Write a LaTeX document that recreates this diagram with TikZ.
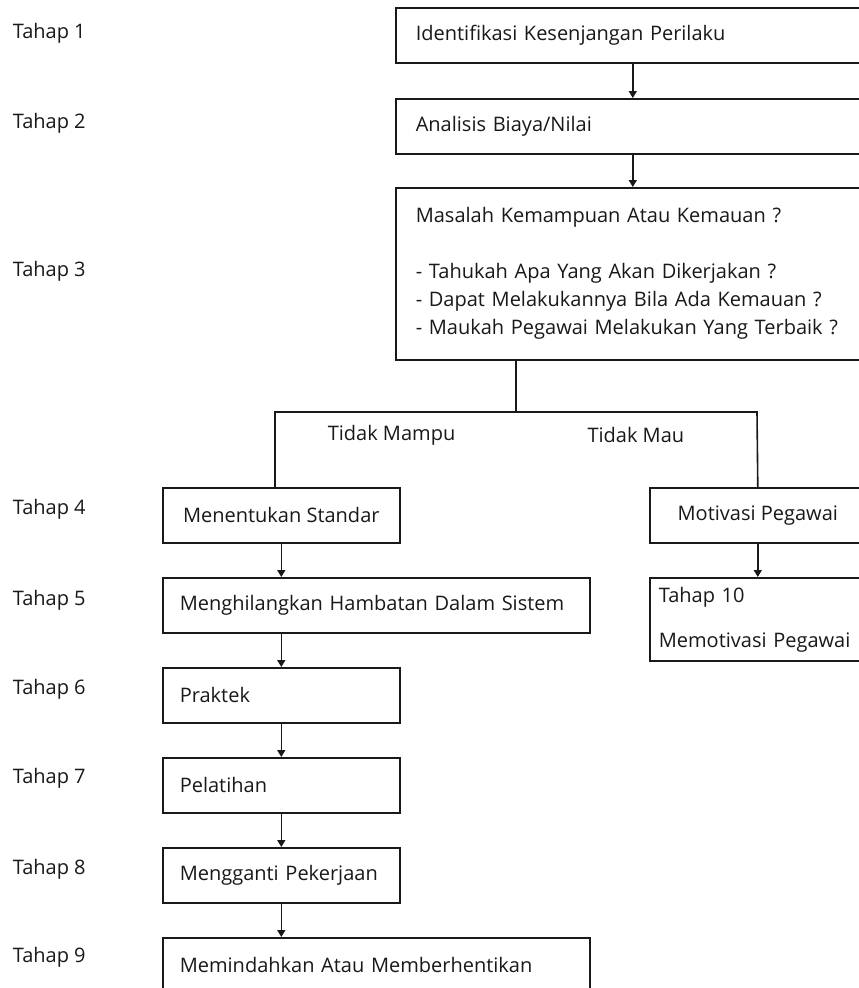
\documentclass[tikz,border=0pt]{standalone}
\usepackage{fontspec}
\setmainfont{Open Sans}
\usetikzlibrary{arrows.meta}

\tikzset{every picture/.style={line width=1.6pt}}
\tikzset{
  stepbox/.style={draw=black!90, anchor=north west, minimum height=55pt, inner ysep=0pt, align=left, text=black!90, font=\fontsize{20}{28}\selectfont},
  steplabel/.style={anchor=west, inner sep=0pt, text=black!90, font=\fontsize{20}{22}\selectfont},
  flowarrow/.style={draw=black!90, -{Triangle[length=7pt,width=8pt]}},
  flowline/.style={draw=black!90},
}

\begin{document}
\begin{tikzpicture}[x=1pt,y=1pt,yscale=-1,xscale=1]
\clip (0,0) rectangle (859,988);
\fill[white] (0,0) rectangle (859,988);
% Text Node
\node[steplabel] (tahapA) at (12,33) {Tahap 1};
% Text Node
\node[steplabel] (tahapB) at (12,123) {Tahap 2};
% Text Node
\node[steplabel] (tahapC) at (12,271) {Tahap 3};
% Text Node
\node[steplabel] (tahapD) at (12,509) {Tahap 4};
% Text Node
\node[steplabel] (tahapE) at (12,600) {Tahap 5};
% Text Node
\node[steplabel] (tahapF) at (12,689) {Tahap 6};
% Text Node
\node[steplabel] (tahapG) at (12,778) {Tahap 7};
% Text Node
\node[steplabel] (tahapH) at (12,869) {Tahap 8};
% Text Node
\node[steplabel] (tahapI) at (12,957) {Tahap 9};
%Rect
\node[stepbox, text width=434pt, inner xsep=20pt] (ident) at (395,7) {Identifikasi Kesenjangan Perilaku};
%Rect
\node[stepbox, text width=434pt, inner xsep=20pt] (biaya) at (395,98) {Analisis Biaya/Nilai};
%Rect
\node[stepbox, text width=434pt, inner xsep=20pt, minimum height=172pt] (masalah) at (395,187) {Masalah Kemampuan Atau Kemauan ?\\[28pt]- Tahukah Apa Yang Akan Dikerjakan ?\\- Dapat Melakukannya Bila Ada Kemauan ?\\- Maukah Pegawai Melakukan Yang Terbaik ?};
%Rect
\node[stepbox, minimum width=237pt] (standar) at (162,487) {Menentukan Standar};
%Rect
\node[stepbox, minimum width=216pt] (motivasi) at (649,487) {Motivasi Pegawai};
%Rect
\node[stepbox, text width=393pt, inner xsep=17pt] (hambatan) at (162,577) {Menghilangkan Hambatan Dalam Sistem};
%Rect
\node[stepbox, text width=242pt, inner xsep=9pt, minimum height=83pt, font=\fontsize{20}{45}\selectfont] (tahapJ) at (649,577) {Tahap 10\\Memotivasi Pegawai};
%Rect
\node[stepbox, text width=203pt, inner xsep=17pt] (praktek) at (162,667) {Praktek};
%Rect
\node[stepbox, text width=203pt, inner xsep=17pt] (pelatihan) at (162,757) {Pelatihan};
%Rect
\node[stepbox, text width=203pt, inner xsep=17pt] (ganti) at (162,847) {Mengganti Pekerjaan};
%Rect
\node[stepbox, text width=393pt, inner xsep=17pt] (pindah) at (162,937) {Memindahkan Atau Memberhentikan};
% Text Node
\node[steplabel] (mampu) at (327,435) {Tidak Mampu};
% Text Node
\node[steplabel, anchor=east] (mau) at (685,435) {Tidak Mau};
%Straight Lines
\coordinate (fork) at (516,412);
\coordinate (forkL) at (275,412);
\coordinate (forkR) at (757,412);
\draw[flowarrow] (ident) -- (biaya);
\draw[flowarrow] (biaya) -- (masalah);
\draw[flowline] (masalah.south -| fork) -- (fork);
\draw[flowline] (forkL |- standar.north) -- (forkL) -- (forkR) -- (motivasi.north);
\draw[flowarrow] (standar) -- (standar.south |- hambatan.north);
\draw[flowarrow] (praktek.north |- hambatan.south) -- (praktek);
\draw[flowarrow] (praktek) -- (pelatihan);
\draw[flowarrow] (pelatihan) -- (ganti);
\draw[flowarrow] (ganti) -- (ganti.south |- pindah.north);
\draw[flowarrow] (motivasi) -- (motivasi.south |- tahapJ.north);
\end{tikzpicture}
\end{document}
